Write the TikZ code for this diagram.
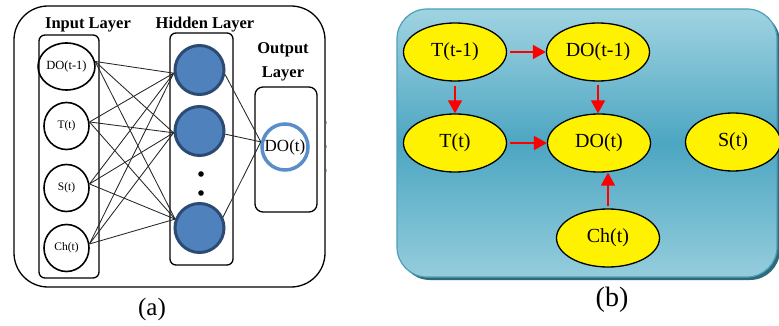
\documentclass[tikz,border=0pt]{standalone}
\usepackage{fontspec}
\setmainfont{Liberation Serif}
\usetikzlibrary{arrows.meta,shapes.geometric,calc}
\definecolor{hidfill}{HTML}{4F81BD}
\definecolor{hidedge}{HTML}{2C4B73}
\definecolor{outedge}{HTML}{5B8DCB}
\definecolor{boxtop}{HTML}{A0D3E1}
\definecolor{boxmid}{HTML}{4CA6C2}
\definecolor{boxbot}{HTML}{95CDDC}
\definecolor{boxedge}{HTML}{4E9FBA}
\definecolor{boxshadow}{HTML}{2D6A7A}

\begin{document}
\begin{tikzpicture}[x=1pt,y=-1pt,
  frame/.style={draw=black, line width=1.3pt, rounded corners=#1},
  inode/.style={ellipse, draw=black, line width=1.6pt, minimum width=45pt,
    minimum height=47pt, inner sep=0pt, font=\fontsize{11.5}{11.5}\selectfont},
  hnode/.style={circle, draw=hidedge, fill=hidfill, line width=3pt,
    minimum size=49pt, inner sep=0pt},
  onode/.style={circle, draw=outedge, line width=3.5pt, minimum size=46pt,
    inner sep=0pt, font=\fontsize{17}{17}\selectfont},
  layertitle/.style={font=\bfseries\fontsize{16.5}{19}\selectfont, anchor=base},
  link/.style={line width=0.85pt, black!85},
  var/.style={ellipse, draw=black, fill=yellow, line width=1.3pt,
    minimum width=103pt, minimum height=58pt, inner sep=0pt,
    font=\fontsize{20}{20}\selectfont},
  causal/.style={draw=red, line width=1.7pt, -{Triangle[length=13pt,width=14pt]}},
  caption/.style={anchor=base}
]
\useasboundingbox (0,0) rectangle (779,326);

% ---------------- (a) neural network ----------------
\draw[frame=34] (14,6) rectangle (325,287);
\draw[frame=6] (39,35) rectangle (99,278);
\draw[frame=6] (170,33) rectangle (233,265);
\draw[frame=8] (255,87) rectangle (317,212);

\node[layertitle] (tin)  at (88,29)  {Input Layer};
\node[layertitle] (thid) at (205,29) {Hidden Layer};
\node[layertitle] (tout1) at (283,54) {Output};
\node[layertitle] (tout2) at (283,78) {Layer};

\node[inode, font=\fontsize{12.5}{12.5}\selectfont] (in1) at (66.5,66.5) {DO(t-1)};
\node[inode] (in2) at (66.5,126) {T(t)};
\node[inode] (in3) at (66.5,188) {S(t)};
\node[inode] (in4) at (66.5,248) {Ch(t)};

\node[hnode] (h1) at (199.5,70) {};
\node[hnode] (h2) at (199.5,131) {};
\node[hnode] (h3) at (199.5,228) {};
\fill (201,174) circle (2.8);
\fill (201,193) circle (2.8);

\node[onode] (o) at (285,147) {DO(t)};

% input -> hidden, fully connected
\foreach \i in {1,...,4}{
  \draw[link] (in\i.10) -- (h1.187);
  \draw[link] (in\i.10) -- (h2.184);
  \draw[link] (in\i.10) -- (h3.160);
}
% hidden -> output
\draw[link] (h1.-10) -- (o.168);
\draw[link] (h2.-7)  -- (o.168);
\draw[link] (h3.25)  -- (o.168);

% small marks beside the frame
\foreach \yy in {123,147,170}
  \draw[gray!60, line width=0.6pt] (326,\yy-1.5) -- (326,\yy+1.5);

\node[caption, font=\fontsize{25}{25}\selectfont] (capa) at (152,315) {(a)};

% ---------------- (b) dependency graph ----------------
\fill[boxshadow, rounded corners=30] (400,12) rectangle (780,280);
\shade[top color=boxtop, bottom color=boxbot, middle color=boxmid, rounded corners=30]
  (397,9) rectangle (777,277);
\draw[boxedge, line width=1.2pt, rounded corners=30] (397,9) rectangle (777,277);

\node[var] (t1) at (455,52)  {T(t-1)};
\node[var] (d1) at (598,52)  {DO(t-1)};
\node[var] (t0) at (455,143) {T(t)};
\node[var] (d0) at (599,143) {DO(t)};
\node[var, minimum width=95pt] (s0) at (733,142) {S(t)};
\node[var] (c0) at (608,238) {Ch(t)};

\draw[causal, shorten <=3pt] (t1.east) -- (d1.west);
\draw[causal, shorten <=4pt] (t1.south) -- (t1.south |- t0.north);
\draw[causal, shorten <=3pt] (d1.south) -- (d1.south |- d0.north);
\draw[causal, shorten <=3pt] (t0.east) -- (d0.west);
\draw[causal, shorten <=2pt] (c0.north) -- (c0.north |- d0.south);

\node[caption, font=\fontsize{28}{28}\selectfont] (capb) at (612,306) {(b)};
\end{tikzpicture}
\end{document}
